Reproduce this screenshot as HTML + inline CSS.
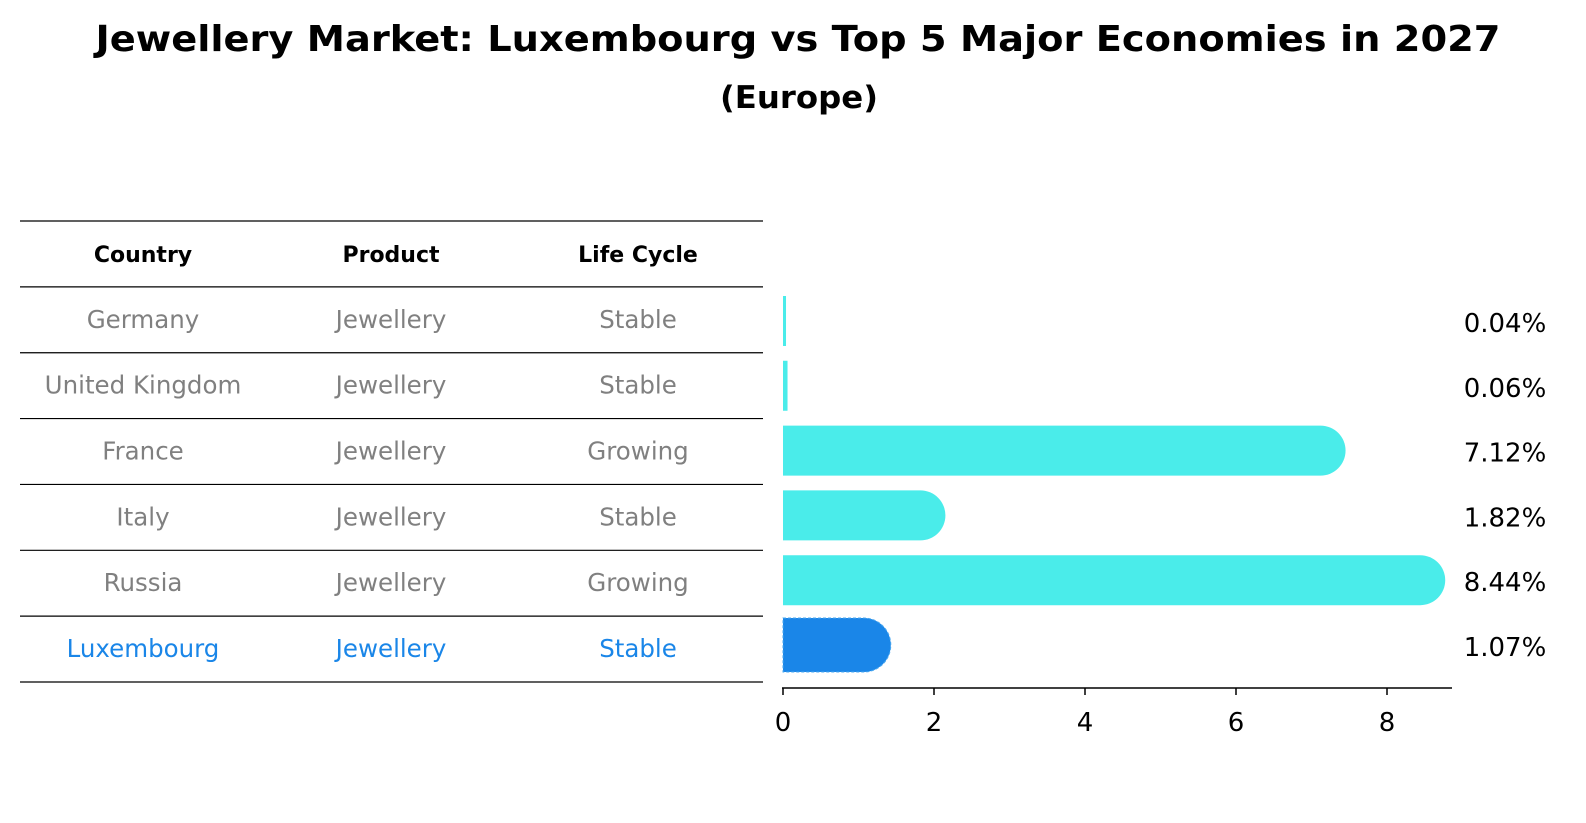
<!DOCTYPE html>
<html><head><meta charset="utf-8"><style>
html,body{margin:0;padding:0;background:#fff;overflow:hidden;width:1586px;height:823px;}
svg{display:block;}
</style></head><body>
<svg width="1586" height="823" xmlns="http://www.w3.org/2000/svg" font-family="DejaVu Sans, Liberation Sans, sans-serif">
<text x="798" y="51" text-anchor="middle" font-size="36" font-weight="bold" textLength="1405" lengthAdjust="spacingAndGlyphs">Jewellery Market: Luxembourg vs Top 5 Major Economies in 2027</text>
<text x="799" y="108" text-anchor="middle" font-size="31" font-weight="bold" textLength="158" lengthAdjust="spacingAndGlyphs">(Europe)</text>
<g id="table"></g>
<g id="bars"></g>
</svg>
<script>
const countries=["Germany","United Kingdom","France","Italy","Russia","Luxembourg"];
const products=["Jewellery","Jewellery","Jewellery","Jewellery","Jewellery","Jewellery"];
const lifecycles=["Stable","Stable","Growing","Stable","Growing","Stable"];
const values=[0.04,0.06,7.12,1.82,8.44,1.07];
const valueLabels=["0.04%","0.06%","7.12%","1.82%","8.44%","1.07%"];
const ticks=[0,2,4,6,8];
const NS="http://www.w3.org/2000/svg";
function mk(tag,attrs,parent){const e=document.createElementNS(NS,tag);for(const k in attrs)e.setAttribute(k,attrs[k]);parent.appendChild(e);return e;}
const x=v=>783+v*75.5;
const rowY=i=>321+i*64.8;
const tbl=document.getElementById('table');
const colX=[143,391,638];
const RH=65.86;
for(let i=0;i<=countries.length+1;i++){const ly=221+i*RH;
const l=mk('line',{x1:20,x2:763,y1:ly,y2:ly,stroke:'#000','stroke-width':1.2},tbl);

}
["Country","Product","Life Cycle"].forEach((h,j)=>{const t=mk('text',{x:colX[j],y:221+RH/2+8,'text-anchor':'middle','font-size':22,'font-weight':'bold'},tbl);t.textContent=h;

});
countries.forEach((c,i)=>{const cy=221+RH*(i+1)+RH/2+8;const col=i===countries.length-1?'#1a86e8':'#808080';
[c,products[i],lifecycles[i]].forEach((s,j)=>{const t=mk('text',{x:colX[j],y:cy,'text-anchor':'middle','font-size':24.5,fill:col},tbl);t.textContent=s;

});});
const g=document.getElementById('bars');
values.forEach((v,i)=>{const cy=rowY(i);const last=i===values.length-1;const h=last?54:50;const col=last?'#1a86e8':'#4aecea';
const w=x(v)-x(0);let d;
if(v>0.5){const r=h/2;d=`M${x(0)},${cy-r}H${x(v)}A${r},${r} 0 0 1 ${x(v)},${cy+r}H${x(0)}Z`;}
else{d=`M${x(0)},${cy-h/2}h${Math.max(w,3)}v${h}h${-Math.max(w,3)}Z`;}
const p=mk('path',{d:d,fill:col},g);
if(last){p.setAttribute('stroke','#4aa8f0');p.setAttribute('stroke-dasharray','3,2');}


const t=mk('text',{x:1505,y:cy+11,'text-anchor':'middle','font-size':26},g);t.textContent=valueLabels[i];

});
const ax=mk('line',{x1:782,x2:1452,y1:688,y2:688,stroke:'#000','stroke-width':1.5},g);


ticks.forEach(tv=>{const l=mk('line',{x1:x(tv),x2:x(tv),y1:688,y2:695,stroke:'#000','stroke-width':1.5},g);


const t=mk('text',{x:x(tv),y:731,'text-anchor':'middle','font-size':26},g);t.textContent=tv;

});
</script>
</body></html>
